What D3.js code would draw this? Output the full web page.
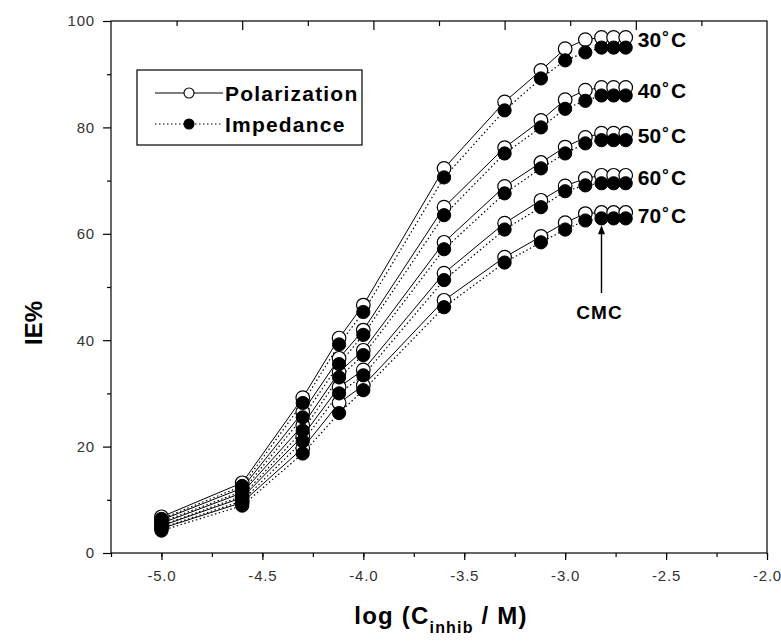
<!DOCTYPE html>
<html>
<head>
<meta charset="utf-8">
<script src="https://cdn.jsdelivr.net/npm/d3@7/dist/d3.min.js"></script>
<style>
  html, body { margin: 0; padding: 0; background: #fff; }
  svg { display: block; }
  text { font-family: "Liberation Sans", Arial, sans-serif; }
</style>
</head>
<body>
<svg id="chart" width="781" height="642"></svg>
<script>
// ---------------- data ----------------
const logConc = [-5.0, -4.6, -4.3, -4.12, -4.0, -3.6, -3.3, -3.12, -3.0, -2.9, -2.82, -2.76, -2.7];
const temperatures = ["30", "40", "50", "60", "70"];

const polarization30 = [6.8, 13.2, 29.2, 40.4, 46.6, 72.3, 84.8, 90.7, 94.8, 96.5, 96.9, 96.9, 96.9];
const impedance30    = [6.4, 12.6, 28.2, 39.2, 45.3, 70.6, 83.2, 89.2, 92.6, 94.1, 95.0, 95.0, 95.0];
const polarization40 = [6.2, 12.2, 26.5, 36.6, 41.9, 65.0, 76.2, 81.3, 85.2, 87.0, 87.5, 87.5, 87.5];
const impedance40    = [5.8, 11.6, 25.5, 35.5, 41.0, 63.5, 75.1, 80.0, 83.5, 85.0, 86.0, 86.0, 86.0];
const polarization50 = [5.6, 11.3, 24.0, 34.0, 38.1, 58.4, 68.9, 73.4, 76.3, 78.1, 78.9, 78.9, 78.9];
const impedance50    = [5.2, 10.7, 23.0, 33.0, 37.2, 57.1, 67.6, 72.3, 75.1, 77.0, 77.6, 77.6, 77.6];
const polarization60 = [5.1, 10.4, 22.0, 31.2, 34.4, 52.6, 62.0, 66.3, 69.0, 70.4, 71.0, 71.0, 71.0];
const impedance60    = [4.7, 9.8, 21.0, 30.0, 33.4, 51.3, 60.8, 65.0, 68.0, 69.1, 69.5, 69.5, 69.5];
const polarization70 = [4.6, 9.5, 19.7, 28.2, 31.5, 47.5, 55.6, 59.5, 62.1, 63.8, 64.0, 64.0, 64.0];
const impedance70    = [4.2, 8.9, 18.7, 26.3, 30.6, 46.2, 54.6, 58.4, 60.8, 62.5, 62.9, 62.9, 62.9];

const xTickValues = [-5.0, -4.5, -4.0, -3.5, -3.0, -2.5, -2.0];
const yTickValues = [0, 20, 40, 60, 80, 100];
const cmcLogConc = -2.82;

const seriesTable = [
  { t: temperatures[0], pol: polarization30, imp: impedance30 },
  { t: temperatures[1], pol: polarization40, imp: impedance40 },
  { t: temperatures[2], pol: polarization50, imp: impedance50 },
  { t: temperatures[3], pol: polarization60, imp: impedance60 },
  { t: temperatures[4], pol: polarization70, imp: impedance70 }
];

// ---------------- layout ----------------
const svg = d3.select("#chart");
const pLeft = 111, pRight = 767, pTop = 21, pBottom = 553;

const x = d3.scaleLinear().domain([-5.25, -2.0]).range([pLeft, pRight]);
const y = d3.scaleLinear().domain([0, 100]).range([pBottom, pTop]);

// frame
svg.append("rect")
  .attr("x", pLeft).attr("y", pTop)
  .attr("width", pRight - pLeft).attr("height", pBottom - pTop)
  .attr("fill", "none").attr("stroke", "#000").attr("stroke-width", 1.2);

// bottom axis
const xMinor = d3.range(-5.25, -1.99, 0.25).map(v => +v.toFixed(2));
const gx = svg.append("g").attr("transform", `translate(0,${pBottom})`);
gx.call(d3.axisBottom(x).tickValues(xMinor).tickSize(4).tickFormat(""));
gx.call(g => g.select(".domain").remove());
const gx2 = svg.append("g").attr("transform", `translate(0,${pBottom})`);
gx2.call(d3.axisBottom(x).tickValues(xTickValues).tickSize(7).tickPadding(10)
  .tickFormat(d => d3.format(".1f")(d).replace("−", "-")));
gx2.call(g => g.select(".domain").remove());
gx2.selectAll("text").attr("font-size", 15).attr("fill", "#333").attr("letter-spacing", "0.8px")
  .attr("font-family", "'Liberation Sans', Arial, sans-serif");

// left axis
const gy = svg.append("g").attr("transform", `translate(${pLeft},0)`);
gy.call(d3.axisLeft(y).tickValues(d3.range(10, 100, 20)).tickSize(4).tickFormat(""));
gy.call(g => g.select(".domain").remove());
const gy2 = svg.append("g").attr("transform", `translate(${pLeft},0)`);
gy2.call(d3.axisLeft(y).tickValues(yTickValues).tickSize(8).tickPadding(8));
gy2.call(g => g.select(".domain").remove());
gy2.selectAll("text").attr("font-size", 15).attr("fill", "#333").attr("letter-spacing", "0.8px")
  .attr("font-family", "'Liberation Sans', Arial, sans-serif");

// top axis (secondary, inward ticks, no labels)
const xTop = d3.scaleLinear().domain([0, 5]).range([pLeft, pRight]);
const gt = svg.append("g").attr("transform", `translate(0,${pTop})`);
gt.call(d3.axisTop(xTop).tickValues([0.5, 1.5, 2.5, 3.5, 4.5]).tickSize(-5).tickFormat(""));
gt.call(g => g.select(".domain").remove());
const gt2 = svg.append("g").attr("transform", `translate(0,${pTop})`);
gt2.call(d3.axisTop(xTop).tickValues([1, 2, 3, 4]).tickSize(-9).tickFormat(""));
gt2.call(g => g.select(".domain").remove());
svg.selectAll(".tick line").attr("stroke", "#000").attr("stroke-width", 1.2);

// axis titles
svg.append("text")
  .attr("transform", `translate(42,${(pTop + pBottom) / 2 + 36}) rotate(-90)`)
  .attr("text-anchor", "middle")
  .attr("font-size", 24).attr("font-weight", "bold")
  .text("IE%");

const xt = svg.append("text")
  .attr("x", (pLeft + pRight) / 2 + 2).attr("y", 624)
  .attr("text-anchor", "middle")
  .attr("font-size", 24).attr("font-weight", "bold").attr("letter-spacing", "1.2px");
xt.append("tspan").text("log (C");
xt.append("tspan").attr("font-size", 16).attr("dy", 9).text("inhib");
xt.append("tspan").attr("dy", -9).text(" / M)");

// ---------------- series ----------------
const lineGen = vals => d3.line()
  .x((d, i) => x(logConc[i]))
  .y(d => y(d))(vals);

const plot = svg.append("g");
seriesTable.forEach(s => {
  plot.append("path").attr("d", lineGen(s.pol))
    .attr("fill", "none").attr("stroke", "#000").attr("stroke-width", 1);
  plot.append("path").attr("d", lineGen(s.imp))
    .attr("fill", "none").attr("stroke", "#000").attr("stroke-width", 1.2)
    .attr("stroke-dasharray", "1.5,2.5");
});
seriesTable.forEach(s => {
  plot.selectAll(null).data(s.pol).enter().append("circle")
    .attr("cx", (d, i) => x(logConc[i])).attr("cy", d => y(d)).attr("r", 6.8)
    .attr("fill", "#fff").attr("stroke", "#000").attr("stroke-width", 1.2);
});
seriesTable.forEach(s => {
  plot.selectAll(null).data(s.imp).enter().append("circle")
    .attr("cx", (d, i) => x(logConc[i])).attr("cy", d => y(d)).attr("r", 6.6)
    .attr("fill", "#000").attr("stroke", "#000").attr("stroke-width", 1);
});

// temperature labels
seriesTable.forEach(s => {
  const last = s.pol.length - 1;
  const t = svg.append("text")
    .attr("x", x(logConc[last]) + 12)
    .attr("y", y(s.pol[last]) + 10)
    .attr("font-size", 21).attr("font-weight", "bold");
  t.append("tspan").text(s.t);
  t.append("tspan").attr("dx", 1).attr("font-size", 17).attr("dy", -4).text("°");
  t.append("tspan").attr("dx", 2).attr("dy", 4).text("C");
});

// CMC annotation
const cmcX = x(cmcLogConc);
const cmcTipY = y(impedance70[10]) + 7;
svg.append("line")
  .attr("x1", cmcX).attr("x2", cmcX)
  .attr("y1", 293).attr("y2", cmcTipY + 3)
  .attr("stroke", "#000").attr("stroke-width", 1.4);
svg.append("path")
  .attr("d", `M${cmcX - 3.5},${cmcTipY + 9} L${cmcX},${cmcTipY} L${cmcX + 3.5},${cmcTipY + 9} Z`)
  .attr("fill", "#000");
svg.append("text")
  .attr("x", cmcX - 2).attr("y", 319)
  .attr("text-anchor", "middle")
  .attr("font-size", 19).attr("font-weight", "bold").attr("letter-spacing", "1px")
  .text("CMC");

// ---------------- legend ----------------
const lg = svg.append("g");
lg.append("rect").attr("x", 137).attr("y", 70).attr("width", 225).attr("height", 75)
  .attr("fill", "#fff").attr("stroke", "#000").attr("stroke-width", 1.2);
const legendItems = [
  { label: "Polarization", dash: null, fill: "#fff", yy: 93 },
  { label: "Impedance", dash: "1.5,2.5", fill: "#000", yy: 124 }
];
legendItems.forEach(it => {
  lg.append("line").attr("x1", 155).attr("x2", 223).attr("y1", it.yy).attr("y2", it.yy)
    .attr("stroke", "#000").attr("stroke-width", 1.1)
    .attr("stroke-dasharray", it.dash);
  lg.append("circle").attr("cx", 189).attr("cy", it.yy).attr("r", 5)
    .attr("fill", it.fill).attr("stroke", "#000").attr("stroke-width", 1.1);
  lg.append("text").attr("x", 225).attr("y", it.yy + 8)
    .attr("font-size", 21).attr("font-weight", "bold").attr("letter-spacing", "1.2px")
    .text(it.label);
});
</script>
</body>
</html>
